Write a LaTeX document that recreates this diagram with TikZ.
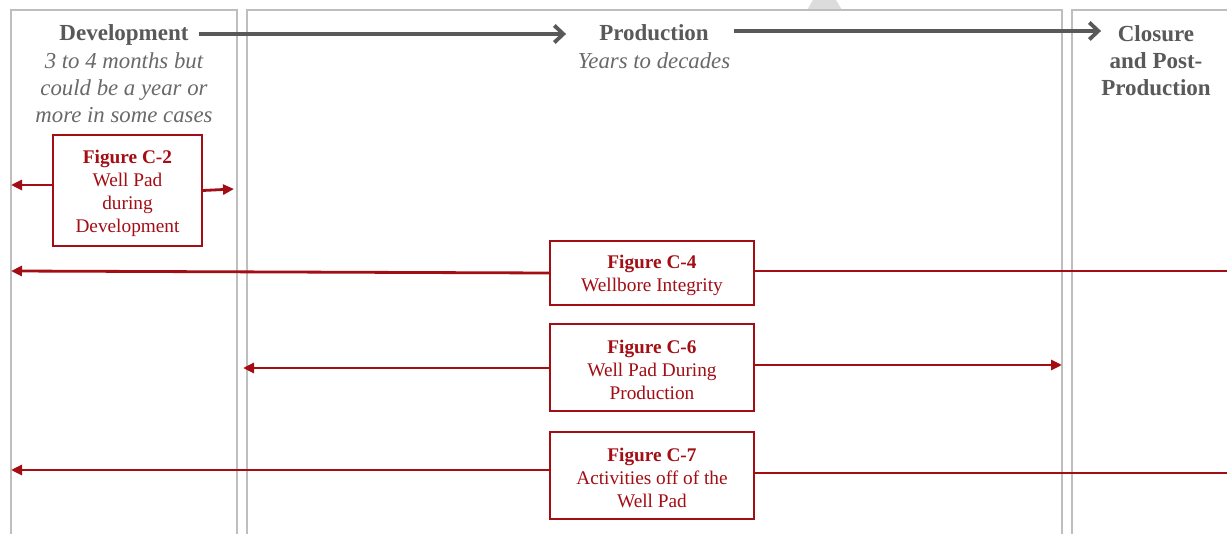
\documentclass[tikz,border=0pt]{standalone}
\usepackage{fontspec}
\setmainfont{Liberation Serif}
\usetikzlibrary{arrows.meta}
\definecolor{hdgray}{RGB}{89,89,89}
\definecolor{itgray}{RGB}{105,105,105}
\definecolor{figred}{RGB}{163,13,20}
\definecolor{panelgray}{RGB}{190,190,190}
\definecolor{wmgray}{RGB}{220,220,220}
\newcommand{\fighead}[1]{\rule{0pt}{19pt}\textbf{#1}}
\begin{document}
\begin{tikzpicture}[x=1pt,y=-1pt,
  panel/.style={draw=panelgray,line width=1.6pt},
  heading/.style={text=hdgray,font=\fontsize{23}{27}\selectfont\bfseries,align=center,inner sep=0pt},
  subhead/.style={text=itgray,font=\fontsize{22.8}{27}\selectfont\itshape,align=center,inner sep=0pt},
  figbox/.style={draw=figred,line width=1.5pt,text=figred,font=\fontsize{19.3}{23}\selectfont,align=center,inner sep=0pt},
  phase/.style={draw=hdgray,line width=3.8pt,-{Straight Barb[length=9pt,width=17pt]}},
  link/.style={draw=figred,line width=2.8pt},
  linkarrow/.style={link,-{Triangle[length=11pt,width=10pt]}}
]
\useasboundingbox (0,0) rectangle (1227,534);
\clip (0,0) rectangle (1227,534);
\fill[white] (0,0) rectangle (1227,534);
% watermark fragment
\fill[wmgray] (807,10) -- (813,0) -- (836,0) -- (842,10) -- cycle;
% panels
\draw[panel] (11,540) -- (11,10) -- (237,10) -- (237,540);
\draw[panel] (247,540) -- (247,10) -- (1062,10) -- (1062,540);
\draw[panel] (1072,540) -- (1072,10) -- (1240,10);
% headings
\node[heading,anchor=base] (dev) at (124,41) {Development};
\node[subhead,anchor=north] (devsub) at (124,52) {3 to 4 months but\\could be a year or\\more in some cases};
\node[heading,anchor=base] (prod) at (654,41) {Production};
\node[subhead,anchor=north] (prodsub) at (654,52) {Years to decades};
\node[heading,anchor=north] (clo) at (1156,25) {Closure\\and Post-\\Production};
% phase arrows
\path ([shift={(10,-7)}]dev.base east) coordinate (d1);
\path ([shift={(-33,-7)}]prod.base west) coordinate (d2);
\draw[phase] (d1) -- (d2);
\path ([shift={(25,-10)}]prod.base east) coordinate (p1);
\draw[phase] (p1) -- (p1 -| clo.west);
% figure boxes
\node[figbox,minimum width=149pt,minimum height=111pt] (c2) at (127.5,190.5) {\fighead{Figure C-2}\\Well Pad\\during\\Development};
\node[figbox,minimum width=204pt,minimum height=64pt] (c4) at (652,273) {\fighead{Figure C-4}\\Wellbore Integrity};
\node[figbox,minimum width=204pt,minimum height=87pt] (c6) at (652,367.5) {\fighead{Figure C-6}\\Well Pad During\\Production};
\node[figbox,minimum width=204pt,minimum height=87pt] (c7) at (652,475.5) {\fighead{Figure C-7}\\Activities off of the\\Well Pad};
% connector ends
\coordinate (c2L) at (11,185);
\coordinate (c2R) at (234,189);
\coordinate (c4L) at (11,271);
\coordinate (c4R) at (1235,271);
\coordinate (c6L) at (243,368);
\coordinate (c6R) at (1062,365);
\coordinate (c7L) at (11,470);
\coordinate (c7R) at (1235,473);
% connectors
\draw[linkarrow] (c2.west |- c2L) -- (c2L);
\draw[linkarrow] (c2.east) -- (c2R);
\draw[linkarrow] (c4.west) -- (c4L);
\draw[link] (c4.east |- c4R) -- (c4R);
\draw[linkarrow] (c6.west |- c6L) -- (c6L);
\draw[linkarrow] (c6.east |- c6R) -- (c6R);
\draw[linkarrow] (c7.west |- c7L) -- (c7L);
\draw[link] (c7.east |- c7R) -- (c7R);
\end{tikzpicture}
\end{document}
